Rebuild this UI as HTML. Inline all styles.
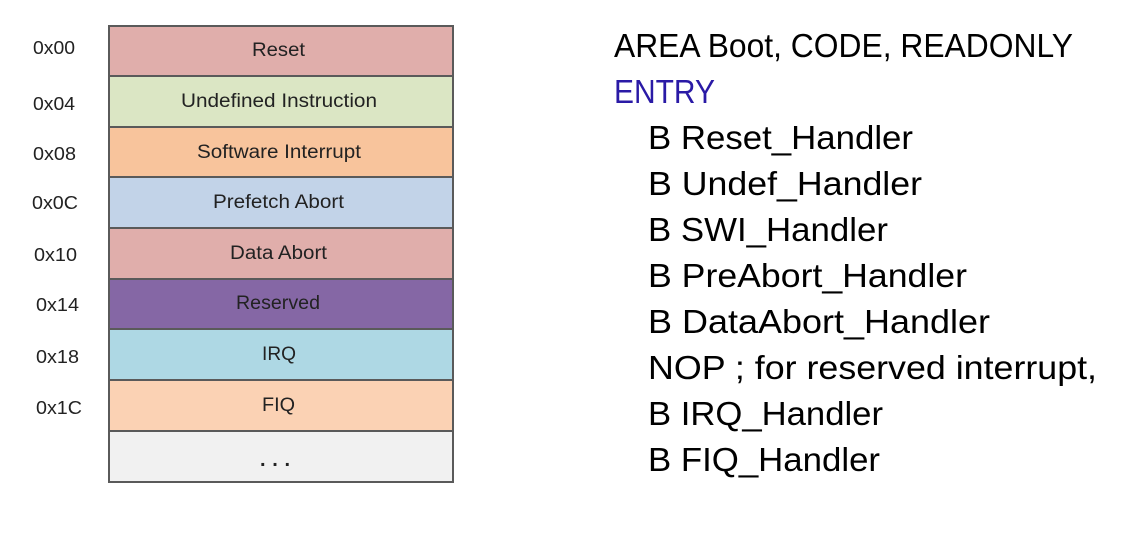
<!DOCTYPE html>
<html><head><meta charset="utf-8"><style>
html,body{margin:0;padding:0;background:#fff;}
</style></head><body>
<svg width="1122" height="543" xmlns="http://www.w3.org/2000/svg" style="display:block" xml:space="preserve">
<g stroke="#5a5a5a" stroke-width="2">
<rect x="109" y="26" width="344" height="50" fill="#e0aeab"/>
<rect x="109" y="76" width="344" height="51" fill="#dbe6c4"/>
<rect x="109" y="127" width="344" height="50" fill="#f8c49c"/>
<rect x="109" y="177" width="344" height="51" fill="#c2d3e8"/>
<rect x="109" y="228" width="344" height="51" fill="#e0aeab"/>
<rect x="109" y="279" width="344" height="50" fill="#8567a5"/>
<rect x="109" y="329" width="344" height="51" fill="#aed8e4"/>
<rect x="109" y="380" width="344" height="51" fill="#fbd2b4"/>
<rect x="109" y="431" width="344" height="51" fill="#f1f1f1"/>
</g>
<g font-family="Liberation Sans, sans-serif" font-size="19" fill="#222">
<text x="252" y="56" textLength="53" lengthAdjust="spacingAndGlyphs">Reset</text>
<text x="181" y="107" textLength="196" lengthAdjust="spacingAndGlyphs">Undefined  Instruction</text>
<text x="197" y="158" textLength="164" lengthAdjust="spacingAndGlyphs">Software  Interrupt</text>
<text x="213" y="208" textLength="131" lengthAdjust="spacingAndGlyphs">Prefetch Abort</text>
<text x="230" y="259" textLength="97" lengthAdjust="spacingAndGlyphs">Data Abort</text>
<text x="236" y="309" textLength="84" lengthAdjust="spacingAndGlyphs">Reserved</text>
<text x="262" y="360" textLength="34" lengthAdjust="spacingAndGlyphs">IRQ</text>
<text x="262" y="411" textLength="33" lengthAdjust="spacingAndGlyphs">FIQ</text>
<text x="260" y="466" font-size="20" font-weight="bold" textLength="30" lengthAdjust="spacing">...</text>
</g>
<g font-family="Liberation Sans, sans-serif" font-size="18" fill="#222">
<text x="33" y="54" textLength="42" lengthAdjust="spacingAndGlyphs">0x00</text>
<text x="33" y="110" textLength="42" lengthAdjust="spacingAndGlyphs">0x04</text>
<text x="33" y="160" textLength="43" lengthAdjust="spacingAndGlyphs">0x08</text>
<text x="32" y="209" textLength="46" lengthAdjust="spacingAndGlyphs">0x0C</text>
<text x="34" y="261" textLength="43" lengthAdjust="spacingAndGlyphs">0x10</text>
<text x="36" y="311" textLength="43" lengthAdjust="spacingAndGlyphs">0x14</text>
<text x="36" y="363" textLength="43" lengthAdjust="spacingAndGlyphs">0x18</text>
<text x="36" y="414" textLength="46" lengthAdjust="spacingAndGlyphs">0x1C</text>
</g>
<g font-family="Liberation Sans, sans-serif" font-size="33" fill="#000">
<text x="614" y="57" textLength="459" lengthAdjust="spacingAndGlyphs">AREA  Boot, CODE, READONLY</text>
<text x="614" y="103" fill="#2a1aa6" textLength="101" lengthAdjust="spacingAndGlyphs">ENTRY</text>
<text x="648" y="149" textLength="265" lengthAdjust="spacingAndGlyphs">B  Reset_Handler</text>
<text x="648" y="195" textLength="274" lengthAdjust="spacingAndGlyphs">B  Undef_Handler</text>
<text x="648" y="241" textLength="240" lengthAdjust="spacingAndGlyphs">B  SWI_Handler</text>
<text x="648" y="287" textLength="319" lengthAdjust="spacingAndGlyphs">B  PreAbort_Handler</text>
<text x="648" y="333" textLength="342" lengthAdjust="spacingAndGlyphs">B  DataAbort_Handler</text>
<text x="648" y="379" textLength="449" lengthAdjust="spacingAndGlyphs">NOP  ; for reserved interrupt,</text>
<text x="648" y="425" textLength="235" lengthAdjust="spacingAndGlyphs">B  IRQ_Handler</text>
<text x="648" y="471" textLength="232" lengthAdjust="spacingAndGlyphs">B  FIQ_Handler</text>
</g>
</svg>
</body></html>
